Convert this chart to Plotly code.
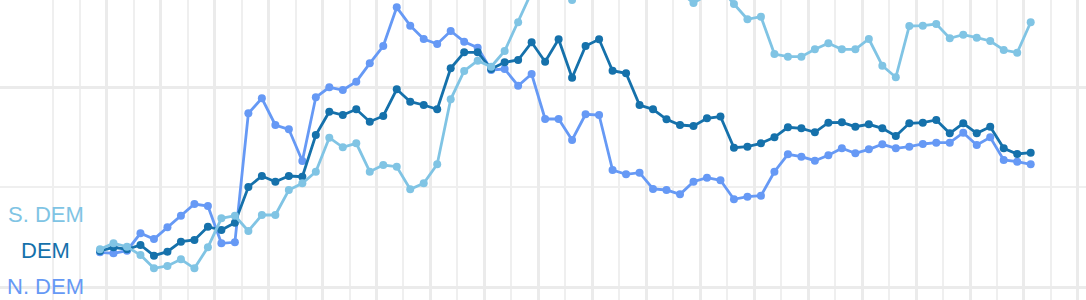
import plotly.graph_objects as go

weeks = list(range(70))

s_dem = [43.77, 44.37, 44.03, 43.2, 41.87, 42.1, 42.77, 41.87, 43.97, 46.87,
         47.13, 45.6, 47.2, 47.2, 49.7, 50.37, 51.53, 54.93, 53.97, 54.37,
         51.53, 52.2, 52.03, 49.77, 50.37, 52.27, 58.77, 61.6, 62.63, 62.03,
         63.6, 66.47, 69.5, 71.0, 70.2, 68.7, 70.5, 71.5, 70.8, 71.2,
         70.0, 69.8, 70.5, 69.5, 68.4, 69.2, 69.9, 68.3, 66.77, 67.03,
         63.3, 63.03, 63.03, 63.77, 64.37, 63.77, 63.77, 64.8, 62.13, 60.97,
         66.1, 66.13, 66.3, 64.87, 65.23, 64.93, 64.6, 63.7, 63.43, 66.47]

dem = [43.6, 43.97, 43.77, 44.2, 43.13, 43.53, 44.53, 44.7, 46.03, 45.7,
       46.43, 50.0, 51.1, 50.53, 51.1, 51.03, 55.2, 57.53, 57.2, 57.77,
       56.53, 57.1, 59.77, 58.53, 58.2, 57.77, 61.87, 63.47, 63.47, 61.8,
       62.47, 62.7, 64.47, 62.53, 64.77, 60.93, 64.1, 64.77, 61.63, 61.37,
       58.2, 57.77, 56.77, 56.2, 56.1, 56.87, 57.05, 53.93, 54.03, 54.37,
       54.97, 55.97, 55.87, 55.47, 56.43, 56.47, 56.03, 56.27, 55.87, 55.1,
       56.37, 56.43, 56.7, 55.37, 56.37, 55.37, 56.03, 53.87, 53.3, 53.43]

n_dem = [43.47, 43.37, 43.63, 45.37, 44.8, 45.97, 47.13, 48.3, 48.1, 44.37,
         44.47, 57.37, 58.87, 56.2, 55.77, 52.6, 58.97, 59.97, 59.7, 60.53,
         62.37, 64.1, 67.97, 66.13, 64.8, 64.3, 65.6, 64.53, 63.93, 61.7,
         61.8, 60.13, 61.3, 56.8, 56.8, 54.7, 57.27, 57.2, 51.7, 51.27,
         51.43, 49.8, 49.7, 49.27, 50.53, 50.93, 50.67, 48.77, 49.03, 49.13,
         51.53, 53.27, 53.03, 52.63, 53.17, 53.87, 53.37, 53.77, 54.27, 53.87,
         54.03, 54.3, 54.43, 54.43, 55.43, 54.2, 54.97, 52.7, 52.53, 52.27]

series_names = ["N. DEM", "DEM", "S. DEM"]
series_values = [n_dem, dem, s_dem]
colors = {"S. DEM": "#80c4e4", "DEM": "#1571ab", "N. DEM": "#6699f5"}

# vertical grid positions (in week units)
major_grid = [0.5 + 4 * k for k in range(19)]
minor_grid = [-3.5, -1.5] + [2.5 + 4 * k for k in range(18)]

fig = go.Figure()
for name, vals in zip(series_names, series_values):
    fig.add_trace(go.Scatter(
        x=weeks, y=vals, mode="lines+markers", name=name,
        line=dict(color=colors[name], width=2.8),
        marker=dict(color=colors[name], size=8),
        showlegend=False,
    ))

label_y = {"S. DEM": 214.5, "DEM": 250.5, "N. DEM": 286}
for name in ["S. DEM", "DEM", "N. DEM"]:
    fig.add_annotation(
        xref="paper", yref="paper", x=45.5 / 1086, y=1 - label_y[name] / 300,
        text=name, showarrow=False, xanchor="center", yanchor="middle",
        font=dict(family="Liberation Sans, Arial, sans-serif", size=22, color=colors[name]),
    )

fig.update_xaxes(
    range=[-7.414, 73.10], showticklabels=False, zeroline=False,
    showgrid=True, gridcolor="#ebebeb", gridwidth=2.5,
    tickmode="array", tickvals=major_grid,
    minor=dict(tickmode="array", tickvals=minor_grid, showgrid=True,
               gridcolor="#efefef", gridwidth=1.5),
    fixedrange=True,
)
fig.update_yaxes(
    range=[38.7, 68.7], showticklabels=False, zeroline=False,
    showgrid=True, gridcolor="#ebebeb", gridwidth=3,
    tick0=0, dtick=20,
    minor=dict(tick0=0, dtick=10, showgrid=True, gridcolor="#efefef", gridwidth=2),
    fixedrange=True,
)
fig.update_layout(
    width=1086, height=300,
    margin=dict(l=0, r=0, t=0, b=0),
    paper_bgcolor="white", plot_bgcolor="white",
)

fig.write_html("out.html", config={"displayModeBar": False})
